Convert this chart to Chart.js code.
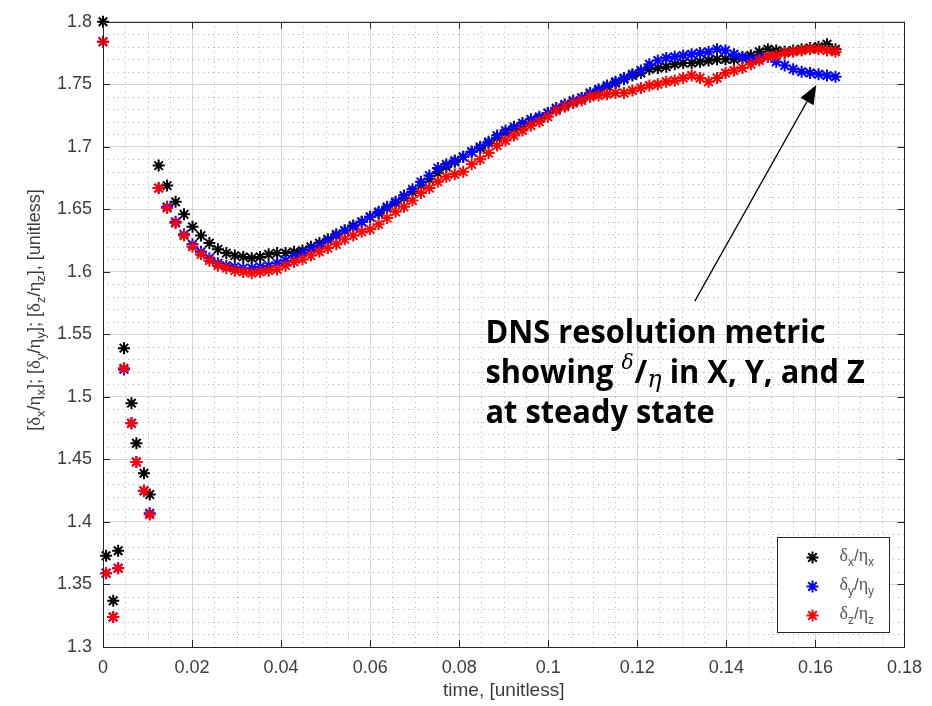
<!DOCTYPE html>
<html>
<head>
<meta charset="utf-8">
<script src="https://cdn.jsdelivr.net/npm/chart.js@4.4.1/dist/chart.umd.min.js"></script>
<style>
  html, body { margin: 0; padding: 0; background: #fff; }
  #wrap { width: 932px; height: 706px; }
</style>
</head>
<body>
<div id="wrap"><canvas id="myChart" width="932" height="706"></canvas></div>
<script>
// time samples (x)
var times = [0, 0.0007, 0.0023, 0.0034, 0.0047, 0.0064, 0.0075, 0.0092, 0.0105,
  0.0125, 0.0144, 0.0163, 0.0182, 0.0201, 0.0220, 0.0239, 0.0258, 0.0277, 0.0296,
  0.0315, 0.0334, 0.0353, 0.0372, 0.0391, 0.0410, 0.0429, 0.0448, 0.0467, 0.0486,
  0.0505, 0.0524, 0.0543, 0.0562, 0.0581, 0.0600, 0.0619, 0.0638, 0.0657, 0.0676,
  0.0695, 0.0714, 0.0733, 0.0752, 0.0771, 0.0790, 0.0809, 0.0828, 0.0847, 0.0866,
  0.0885, 0.0904, 0.0923, 0.0942, 0.0961, 0.0980, 0.0999, 0.1018, 0.1037, 0.1056,
  0.1075, 0.1094, 0.1113, 0.1132, 0.1151, 0.1170, 0.1189, 0.1208, 0.1227, 0.1246,
  0.1265, 0.1284, 0.1303, 0.1322, 0.1341, 0.1360, 0.1379, 0.1398, 0.1417, 0.1436,
  0.1455, 0.1474, 0.1493, 0.1512, 0.1531, 0.1550, 0.1569, 0.1588, 0.1607, 0.1626, 0.1645];

// delta_x / eta_x  (black)
var ratioX = [1.800, 1.373, 1.337, 1.377, 1.539, 1.495, 1.463, 1.439, 1.422,
  1.685, 1.669, 1.656, 1.646, 1.636, 1.629, 1.623, 1.618, 1.615, 1.613,
  1.612, 1.611, 1.612, 1.614, 1.615, 1.615, 1.616, 1.617, 1.620, 1.623,
  1.626, 1.630, 1.633, 1.637, 1.640, 1.644, 1.647, 1.651, 1.655, 1.659,
  1.664, 1.669, 1.674, 1.679, 1.684, 1.688, 1.692, 1.696, 1.699, 1.703,
  1.707, 1.711, 1.714, 1.717, 1.720, 1.723, 1.727, 1.730, 1.733, 1.736,
  1.739, 1.742, 1.745, 1.748, 1.751, 1.754, 1.757, 1.759, 1.762, 1.763,
  1.764, 1.766, 1.767, 1.767, 1.768, 1.769, 1.770, 1.770, 1.770, 1.771,
  1.773, 1.776, 1.778, 1.777, 1.776, 1.777, 1.778, 1.779, 1.780, 1.782, 1.778];

// delta_y / eta_y  (blue)
var ratioY = [1.784, 1.359, 1.324, 1.363, 1.522, 1.479, 1.448, 1.425, 1.407,
  1.667, 1.652, 1.640, 1.630, 1.622, 1.616, 1.611, 1.607, 1.605, 1.604,
  1.603, 1.603, 1.604, 1.605, 1.607, 1.609, 1.612, 1.615, 1.618, 1.621,
  1.625, 1.629, 1.633, 1.636, 1.640, 1.644, 1.648, 1.652, 1.656, 1.661,
  1.666, 1.672, 1.677, 1.683, 1.686, 1.689, 1.692, 1.696, 1.700, 1.704,
  1.709, 1.713, 1.716, 1.719, 1.722, 1.724, 1.727, 1.731, 1.734, 1.737,
  1.739, 1.743, 1.746, 1.749, 1.752, 1.755, 1.758, 1.761, 1.766, 1.769,
  1.771, 1.772, 1.773, 1.774, 1.775, 1.776, 1.778, 1.777, 1.774, 1.772,
  1.770, 1.771, 1.772, 1.768, 1.765, 1.762, 1.760, 1.759, 1.758, 1.757, 1.756];

// delta_z / eta_z  (red)
var ratioZ = [1.784, 1.359, 1.324, 1.363, 1.523, 1.479, 1.448, 1.425, 1.406,
  1.667, 1.651, 1.639, 1.629, 1.620, 1.614, 1.609, 1.605, 1.603, 1.601,
  1.600, 1.599, 1.600, 1.601, 1.602, 1.605, 1.608, 1.610, 1.613, 1.616,
  1.619, 1.622, 1.626, 1.629, 1.632, 1.634, 1.638, 1.643, 1.648, 1.652,
  1.657, 1.663, 1.667, 1.672, 1.676, 1.678, 1.680, 1.686, 1.690, 1.695,
  1.701, 1.705, 1.709, 1.713, 1.717, 1.720, 1.724, 1.729, 1.732, 1.735,
  1.737, 1.740, 1.741, 1.742, 1.743, 1.743, 1.745, 1.747, 1.749, 1.750,
  1.752, 1.753, 1.755, 1.757, 1.755, 1.752, 1.755, 1.759, 1.761, 1.763,
  1.766, 1.769, 1.772, 1.773, 1.775, 1.776, 1.777, 1.778, 1.778, 1.777, 1.776];

var xTickLabels = ['0', '0.02', '0.04', '0.06', '0.08', '0.1', '0.12', '0.14', '0.16', '0.18'];
var yTickLabels = ['1.3', '1.35', '1.4', '1.45', '1.5', '1.55', '1.6', '1.65', '1.7', '1.75', '1.8'];
var seriesSubs = ['x', 'y', 'z'];
var seriesColors = ['#000000', '#0000ff', '#ff0000'];

var tickColor = '#3c3c3c';
var axisColor = '#262626';

function toPoints(ys) {
  return times.map(function (t, i) { return { x: t, y: ys[i] }; });
}

// draw a row of text pieces (font / vertical shift), returns width
function drawRuns(ctx, runs, x, y, measureOnly) {
  var cx = x;
  runs.forEach(function (r) {
    ctx.font = r.font;
    if (!measureOnly) ctx.fillText(r.text, cx, y + (r.dy || 0));
    cx += ctx.measureText(r.text).width + (r.gap || 0);
  });
  return cx - x;
}

function ratioRuns(sub, size, subSize) {
  var main = size + 'px "Liberation Sans", Arial, sans-serif';
  var greek = (size + 1) + 'px "Liberation Serif", "DejaVu Serif", serif';
  var small = subSize + 'px "Liberation Sans", Arial, sans-serif';
  var d = Math.round(size * 0.3);
  return [
    { text: 'δ', font: greek },
    { text: sub, font: small, dy: d },
    { text: '/', font: main },
    { text: 'η', font: greek },
    { text: sub, font: small, dy: d }
  ];
}

var minorGrid = {
  id: 'minorGrid',
  beforeDatasetsDraw: function (chart) {
    var ctx = chart.ctx, a = chart.chartArea;
    var xs = chart.scales.x, ys = chart.scales.y;
    ctx.save();
    ctx.strokeStyle = 'rgba(60,60,60,0.38)';
    ctx.lineWidth = 1;
    ctx.setLineDash([1, 4]);
    var i, v, p;
    for (i = 1; i < 36; i++) {
      if (i % 4 === 0) continue;
      v = i * 0.005;
      p = Math.round(xs.getPixelForValue(v)) + 0.5;
      ctx.beginPath(); ctx.moveTo(p, a.top); ctx.lineTo(p, a.bottom); ctx.stroke();
    }
    for (i = 1; i < 50; i++) {
      if (i % 5 === 0) continue;
      v = 1.3 + i * 0.01;
      p = Math.round(ys.getPixelForValue(v)) + 0.5;
      ctx.beginPath(); ctx.moveTo(a.left, p); ctx.lineTo(a.right, p); ctx.stroke();
    }
    ctx.restore();
  }
};

var axesBox = {
  id: 'axesBox',
  afterDatasetsDraw: function (chart) {
    var ctx = chart.ctx, a = chart.chartArea;
    var xs = chart.scales.x, ys = chart.scales.y;
    ctx.save();
    ctx.strokeStyle = axisColor;
    ctx.lineWidth = 1;
    ctx.strokeRect(Math.round(a.left) + 0.5, Math.round(a.top) + 0.5,
      Math.round(a.right - a.left), Math.round(a.bottom - a.top));
    ctx.beginPath();
    xs.ticks.forEach(function (t) {
      var p = Math.round(xs.getPixelForValue(t.value)) + 0.5;
      ctx.moveTo(p, a.bottom); ctx.lineTo(p, a.bottom - 7);
      ctx.moveTo(p, a.top); ctx.lineTo(p, a.top + 7);
    });
    ys.ticks.forEach(function (t) {
      var p = Math.round(ys.getPixelForValue(t.value)) + 0.5;
      ctx.moveTo(a.left, p); ctx.lineTo(a.left + 7, p);
      ctx.moveTo(a.right, p); ctx.lineTo(a.right - 7, p);
    });
    ctx.stroke();
    ctx.restore();
  }
};

var extras = {
  id: 'extras',
  afterDraw: function (chart) {
    var ctx = chart.ctx, a = chart.chartArea;
    var xs = chart.scales.x, ys = chart.scales.y;

    // y axis title with subscripts
    var main = '18px "Liberation Sans", Arial, sans-serif';
    var title = [{ text: '[', font: main }];
    seriesSubs.forEach(function (s, i) {
      title = title.concat(ratioRuns(s, 18, 13));
      title.push({ text: i < 2 ? ']; [' : '], [unitless]', font: main });
    });
    ctx.save();
    ctx.fillStyle = tickColor;
    ctx.textBaseline = 'alphabetic';
    ctx.translate(35, 310);
    ctx.rotate(-Math.PI / 2);
    var w = drawRuns(ctx, title, 0, 0, true);
    drawRuns(ctx, title, -w / 2, 5);
    ctx.restore();

    // legend box (south-east)
    var lw = 112, lh = 95;
    var lx = Math.round(a.right - 15 - lw) + 0.5, ly = Math.round(a.bottom - 15 - lh) + 0.5;
    ctx.save();
    ctx.fillStyle = '#fff';
    ctx.fillRect(lx, ly, lw, lh);
    ctx.strokeStyle = axisColor;
    ctx.lineWidth = 1;
    ctx.strokeRect(lx, ly, lw, lh);
    chart.data.datasets.forEach(function (ds, i) {
      var ry = ly + 20 + i * 29;
      ctx.strokeStyle = ds.borderColor;
      ctx.lineWidth = 2;
      if (Chart.helpers && Chart.helpers.drawPoint) {
        Chart.helpers.drawPoint(ctx, { pointStyle: 'star', radius: 6, rotation: 0, borderWidth: 2 }, lx + 35, ry);
      }
      ctx.fillStyle = '#555';
      ctx.textBaseline = 'alphabetic';
      drawRuns(ctx, ratioRuns(seriesSubs[i], 17, 12), lx + 62, ry + 3);
    });
    ctx.restore();

    // annotation arrow
    var tipX = xs.getPixelForValue(0.1602), tipY = ys.getPixelForValue(1.7495);
    var fromX = xs.getPixelForValue(0.1329), fromY = ys.getPixelForValue(1.5765);
    var ang = Math.atan2(tipY - fromY, tipX - fromX);
    var hl = 19, hw = 7.5;
    var bx = tipX - hl * Math.cos(ang), by = tipY - hl * Math.sin(ang);
    ctx.save();
    ctx.strokeStyle = '#000';
    ctx.fillStyle = '#000';
    ctx.lineWidth = 1.4;
    ctx.beginPath(); ctx.moveTo(fromX, fromY); ctx.lineTo(bx, by); ctx.stroke();
    ctx.beginPath();
    ctx.moveTo(tipX, tipY);
    ctx.lineTo(bx + hw * Math.sin(ang), by - hw * Math.cos(ang));
    ctx.lineTo(bx - hw * Math.sin(ang), by + hw * Math.cos(ang));
    ctx.closePath(); ctx.fill();
    ctx.restore();

    // annotation text
    var bold = 'bold 32px "Open Sans", Lato, sans-serif';
    var lines = [
      [{ text: 'DNS resolution metric', font: bold }],
      [{ text: 'showing ', font: bold },
       { text: 'δ', font: 'italic 21px "DejaVu Serif", serif', dy: -14, gap: 1 },
       { text: '/', font: bold },
       { text: 'η', font: 'italic 25px "DejaVu Serif", serif', dy: 4 },
       { text: ' in X, Y, and Z', font: bold }],
      [{ text: 'at steady state', font: bold }]
    ];
    var tx = xs.getPixelForValue(0.0859);
    var ty = ys.getPixelForValue(1.5433);
    ctx.save();
    ctx.fillStyle = '#000';
    ctx.textBaseline = 'alphabetic';
    var sx = 340 / drawRuns(ctx, lines[0], 0, 0, true);
    ctx.translate(tx, ty);
    ctx.scale(sx, 1);
    lines.forEach(function (ln, i) { drawRuns(ctx, ln, 0, i * 40); });
    ctx.restore();
  }
};

var tickFont = { family: '"Liberation Sans", Arial, sans-serif', size: 18 };

var chart = new Chart(document.getElementById('myChart').getContext('2d'), {
  type: 'scatter',
  data: {
    datasets: [
      { label: 'dx/nx', data: toPoints(ratioX), borderColor: seriesColors[0], backgroundColor: seriesColors[0], order: 3 },
      { label: 'dy/ny', data: toPoints(ratioY), borderColor: seriesColors[1], backgroundColor: seriesColors[1], order: 2 },
      { label: 'dz/nz', data: toPoints(ratioZ), borderColor: seriesColors[2], backgroundColor: seriesColors[2], order: 1 }
    ]
  },
  options: {
    responsive: false,
    devicePixelRatio: 1,
    animation: false,
    layout: { padding: { left: 0, top: 14, right: 24, bottom: 0 } },
    elements: {
      point: { pointStyle: 'star', radius: 6, borderWidth: 2, hoverRadius: 6 }
    },
    datasets: { scatter: { clip: false } },
    scales: {
      x: {
        type: 'linear',
        min: 0,
        max: 0.18,
        afterFit: function (scale) { scale.height = 59; },
        grid: { color: '#d6d6d6', drawTicks: false },
        border: { display: false },
        ticks: {
          stepSize: 0.02,
          autoSkip: false,
          maxRotation: 0,
          padding: 10,
          color: tickColor,
          font: tickFont,
          callback: function (v, i) { return xTickLabels[i]; }
        },
        title: {
          display: true,
          text: 'time, [unitless]',
          color: tickColor,
          font: { family: '"Liberation Sans", Arial, sans-serif', size: 19 },
          padding: { top: 0, bottom: 4 }
        }
      },
      y: {
        type: 'linear',
        min: 1.3,
        max: 1.8,
        afterFit: function (scale) { scale.width = 103; },
        grid: { color: '#d6d6d6', drawTicks: false },
        border: { display: false },
        ticks: {
          stepSize: 0.05,
          autoSkip: false,
          padding: 11,
          color: tickColor,
          font: tickFont,
          callback: function (v, i) { return yTickLabels[i]; }
        }
      }
    },
    plugins: {
      legend: { display: false },
      tooltip: { enabled: false }
    }
  },
  plugins: [minorGrid, axesBox, extras]
});
</script>
</body>
</html>
